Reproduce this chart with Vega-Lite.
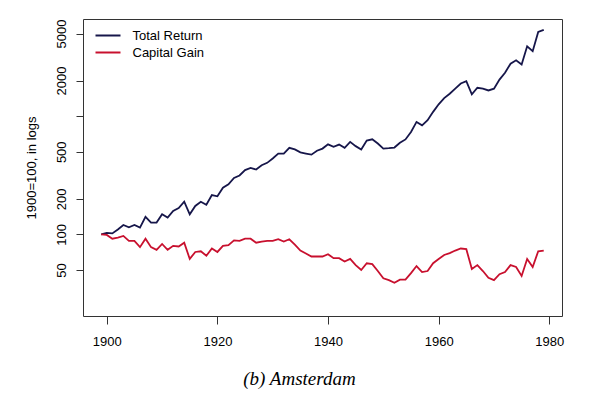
{
  "$schema": "https://vega.github.io/schema/vega-lite/v6.json",
  "autosize": "none",
  "width": 479,
  "height": 297,
  "padding": {"left": 83, "top": 19, "right": 38, "bottom": 83},
  "background": "white",
  "config": {
    "font": "Liberation Sans",
    "view": {"stroke": "#333333", "strokeWidth": 1}
  },
  "title": {
    "text": "(b) Amsterdam",
    "orient": "bottom",
    "font": "Liberation Serif",
    "fontStyle": "italic",
    "fontWeight": "normal",
    "fontSize": 19,
    "anchor": "middle",
    "frame": "group",
    "dx": -23,
    "offset": 22,
    "color": "#000000"
  },
  "data": {
    "values": [
      {"year": 1899, "Total Return": 100, "Capital Gain": 100},
      {"year": 1900, "Total Return": 103, "Capital Gain": 99},
      {"year": 1901, "Total Return": 102, "Capital Gain": 92},
      {"year": 1902, "Total Return": 110, "Capital Gain": 94},
      {"year": 1903, "Total Return": 120, "Capital Gain": 97},
      {"year": 1904, "Total Return": 115, "Capital Gain": 88},
      {"year": 1905, "Total Return": 120, "Capital Gain": 88},
      {"year": 1906, "Total Return": 114, "Capital Gain": 78},
      {"year": 1907, "Total Return": 141, "Capital Gain": 92},
      {"year": 1908, "Total Return": 126, "Capital Gain": 78},
      {"year": 1909, "Total Return": 126, "Capital Gain": 74},
      {"year": 1910, "Total Return": 148, "Capital Gain": 83},
      {"year": 1911, "Total Return": 139, "Capital Gain": 74},
      {"year": 1912, "Total Return": 158, "Capital Gain": 80},
      {"year": 1913, "Total Return": 167, "Capital Gain": 79},
      {"year": 1914, "Total Return": 189, "Capital Gain": 85},
      {"year": 1915, "Total Return": 148, "Capital Gain": 62},
      {"year": 1916, "Total Return": 174, "Capital Gain": 71},
      {"year": 1917, "Total Return": 189, "Capital Gain": 72},
      {"year": 1918, "Total Return": 178, "Capital Gain": 66},
      {"year": 1919, "Total Return": 215, "Capital Gain": 76},
      {"year": 1920, "Total Return": 210, "Capital Gain": 71},
      {"year": 1921, "Total Return": 248, "Capital Gain": 80},
      {"year": 1922, "Total Return": 265, "Capital Gain": 81},
      {"year": 1923, "Total Return": 300, "Capital Gain": 89},
      {"year": 1924, "Total Return": 315, "Capital Gain": 88},
      {"year": 1925, "Total Return": 350, "Capital Gain": 92},
      {"year": 1926, "Total Return": 365, "Capital Gain": 92},
      {"year": 1927, "Total Return": 354, "Capital Gain": 85},
      {"year": 1928, "Total Return": 385, "Capital Gain": 87},
      {"year": 1929, "Total Return": 403, "Capital Gain": 88},
      {"year": 1930, "Total Return": 439, "Capital Gain": 88},
      {"year": 1931, "Total Return": 483, "Capital Gain": 91},
      {"year": 1932, "Total Return": 483, "Capital Gain": 87},
      {"year": 1933, "Total Return": 540, "Capital Gain": 91},
      {"year": 1934, "Total Return": 523, "Capital Gain": 82},
      {"year": 1935, "Total Return": 494, "Capital Gain": 73},
      {"year": 1936, "Total Return": 483, "Capital Gain": 69},
      {"year": 1937, "Total Return": 473, "Capital Gain": 65},
      {"year": 1938, "Total Return": 510, "Capital Gain": 65},
      {"year": 1939, "Total Return": 532, "Capital Gain": 65},
      {"year": 1940, "Total Return": 578, "Capital Gain": 68},
      {"year": 1941, "Total Return": 551, "Capital Gain": 63},
      {"year": 1942, "Total Return": 575, "Capital Gain": 63},
      {"year": 1943, "Total Return": 540, "Capital Gain": 59},
      {"year": 1944, "Total Return": 606, "Capital Gain": 62},
      {"year": 1945, "Total Return": 558, "Capital Gain": 55},
      {"year": 1946, "Total Return": 523, "Capital Gain": 50},
      {"year": 1947, "Total Return": 621, "Capital Gain": 57},
      {"year": 1948, "Total Return": 638, "Capital Gain": 56},
      {"year": 1949, "Total Return": 587, "Capital Gain": 49},
      {"year": 1950, "Total Return": 532, "Capital Gain": 42.5},
      {"year": 1951, "Total Return": 536, "Capital Gain": 41},
      {"year": 1952, "Total Return": 543, "Capital Gain": 39},
      {"year": 1953, "Total Return": 595, "Capital Gain": 41.4},
      {"year": 1954, "Total Return": 636, "Capital Gain": 41.4},
      {"year": 1955, "Total Return": 736, "Capital Gain": 47},
      {"year": 1956, "Total Return": 894, "Capital Gain": 54},
      {"year": 1957, "Total Return": 837, "Capital Gain": 48},
      {"year": 1958, "Total Return": 925, "Capital Gain": 49},
      {"year": 1959, "Total Return": 1088, "Capital Gain": 57},
      {"year": 1960, "Total Return": 1260, "Capital Gain": 62},
      {"year": 1961, "Total Return": 1424, "Capital Gain": 67},
      {"year": 1962, "Total Return": 1550, "Capital Gain": 69.5},
      {"year": 1963, "Total Return": 1710, "Capital Gain": 73},
      {"year": 1964, "Total Return": 1890, "Capital Gain": 76},
      {"year": 1965, "Total Return": 1980, "Capital Gain": 75},
      {"year": 1966, "Total Return": 1530, "Capital Gain": 51},
      {"year": 1967, "Total Return": 1740, "Capital Gain": 55},
      {"year": 1968, "Total Return": 1710, "Capital Gain": 49},
      {"year": 1969, "Total Return": 1650, "Capital Gain": 43},
      {"year": 1970, "Total Return": 1710, "Capital Gain": 41},
      {"year": 1971, "Total Return": 2040, "Capital Gain": 46},
      {"year": 1972, "Total Return": 2330, "Capital Gain": 48},
      {"year": 1973, "Total Return": 2780, "Capital Gain": 55},
      {"year": 1974, "Total Return": 2970, "Capital Gain": 53},
      {"year": 1975, "Total Return": 2740, "Capital Gain": 44.5},
      {"year": 1976, "Total Return": 3900, "Capital Gain": 62},
      {"year": 1977, "Total Return": 3550, "Capital Gain": 53},
      {"year": 1978, "Total Return": 5160, "Capital Gain": 72},
      {"year": 1979, "Total Return": 5380, "Capital Gain": 73}
    ]
  },
  "transform": [{"fold": ["Total Return", "Capital Gain"], "as": ["series", "value"]}],
  "mark": {"type": "line", "strokeWidth": 1.8, "clip": true},
  "encoding": {
    "x": {
      "field": "year",
      "type": "quantitative",
      "scale": {"domain": [1895.7, 1982.3], "nice": false, "zero": false},
      "axis": {
        "values": [1900, 1920, 1940, 1960, 1980],
        "format": "d",
        "title": null,
        "grid": false,
        "domain": false,
        "tickSize": 8,
        "tickColor": "#333333",
        "labelFontSize": 13,
        "labelColor": "#000000",
        "labelPadding": 11,
        "labelFont": "Liberation Sans"
      }
    },
    "y": {
      "field": "value",
      "type": "quantitative",
      "scale": {"type": "log", "domain": [20.4, 6640], "nice": false},
      "axis": {
        "values": [50, 100, 200, 500, 1000, 2000, 5000],
        "format": "d",
        "labelExpr": "datum.value == 1000 ? '' : datum.label",
        "labelAngle": -90,
        "labelAlign": "center",
        "labelBaseline": "bottom",
        "labelFontSize": 13,
        "labelColor": "#000000",
        "labelFont": "Liberation Sans",
        "labelPadding": 8,
        "tickSize": 7,
        "tickColor": "#333333",
        "grid": false,
        "domain": false,
        "title": "1900=100, in logs",
        "titleFont": "Liberation Sans",
        "titleFontSize": 13,
        "titleFontWeight": "normal",
        "titleColor": "#000000",
        "titlePadding": 17
      }
    },
    "color": {
      "field": "series",
      "type": "nominal",
      "scale": {"domain": ["Total Return", "Capital Gain"], "range": ["#16164a", "#c8102e"]},
      "legend": {
        "orient": "none",
        "legendX": 18.5,
        "legendY": 10,
        "title": null,
        "symbolType": "M-2.5,0H2.5",
        "symbolSize": 100,
        "symbolStrokeWidth": 2,
        "symbolFillColor": "transparent",
        "labelFontSize": 13,
        "labelFont": "Liberation Sans",
        "labelColor": "#000000",
        "labelOffset": 18,
        "rowPadding": 3,
        "padding": 0
      }
    }
  }
}
